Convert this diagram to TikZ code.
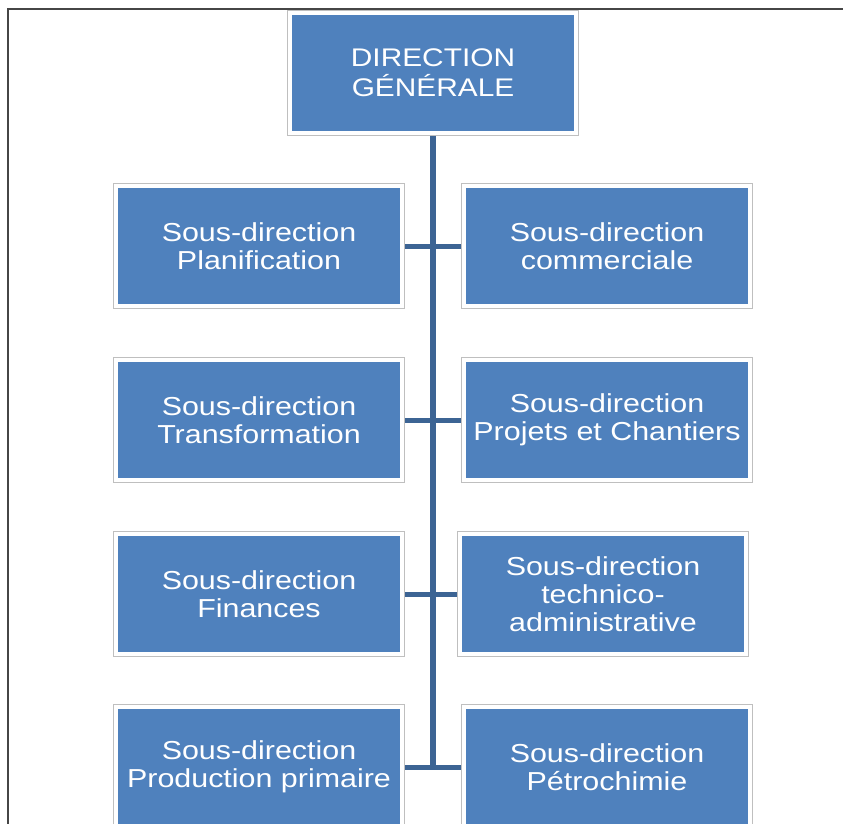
\documentclass[tikz,border=0pt]{standalone}
\usepackage{fontspec}
\setmainfont{Liberation Sans}[FakeStretch=1.17]
\usetikzlibrary{positioning}
\definecolor{boxblue}{RGB}{79,129,189}
\definecolor{linkblue}{RGB}{60,100,148}
\definecolor{framegray}{RGB}{70,70,70}
\def\leftcol{259}
\def\rightcol{607}

\begin{document}
\begin{tikzpicture}[x=1pt,y=-1pt]
    \tikzstyle{unit}=[rectangle, fill=boxblue, draw=white, line width=4.5pt,
        preaction={draw=black!25, line width=6.5pt},
        minimum width=286pt, minimum height=120pt, inner sep=0pt, outer sep=3.25pt,
        text=white, align=center, font=\fontsize{26}{28}\selectfont]
    \tikzstyle{link}=[draw=linkblue, line width=5pt]
    \tikzstyle{trunk}=[link, line width=6pt]

    \clip (0,0) rectangle (843,824);

    % Page frame (left and top edges only)
    \draw[framegray, line width=2pt] (8,824) -- (8,9) -- (843,9);

    % Draw the head node
    \node[unit, font=\fontsize{25.5}{30}\selectfont] (DG) at (433,73) {DIRECTION\\GÉNÉRALE};

    % Draw the left column
    \foreach \name / \y / \label in {1/246/Planification, 2/420/Transformation,
                                     3/594/Finances, 4/767/Production primaire}
        \node[unit] (L-\name) at (\leftcol,\y) {Sous-direction\\\label};

    % Draw the right column
    \foreach \name / \x / \y / \label in {1/\rightcol/246/commerciale,
                                          2/\rightcol/420/Projets et Chantiers,
                                          3/603/594/technico-\\administrative,
                                          4/\rightcol/767/Pétrochimie}
        \node[unit] (R-\name) at (\x,\y) {Sous-direction\\\label};

    % Trunk from the head down to the last row
    \coordinate (T) at (DG.south |- L-4);
    \draw[trunk] (DG) -- (T);

    % Connect each left node with its right neighbour
    \foreach \name in {1,...,4}
        \draw[link] (L-\name) -- (R-\name);
\end{tikzpicture}
\end{document}
